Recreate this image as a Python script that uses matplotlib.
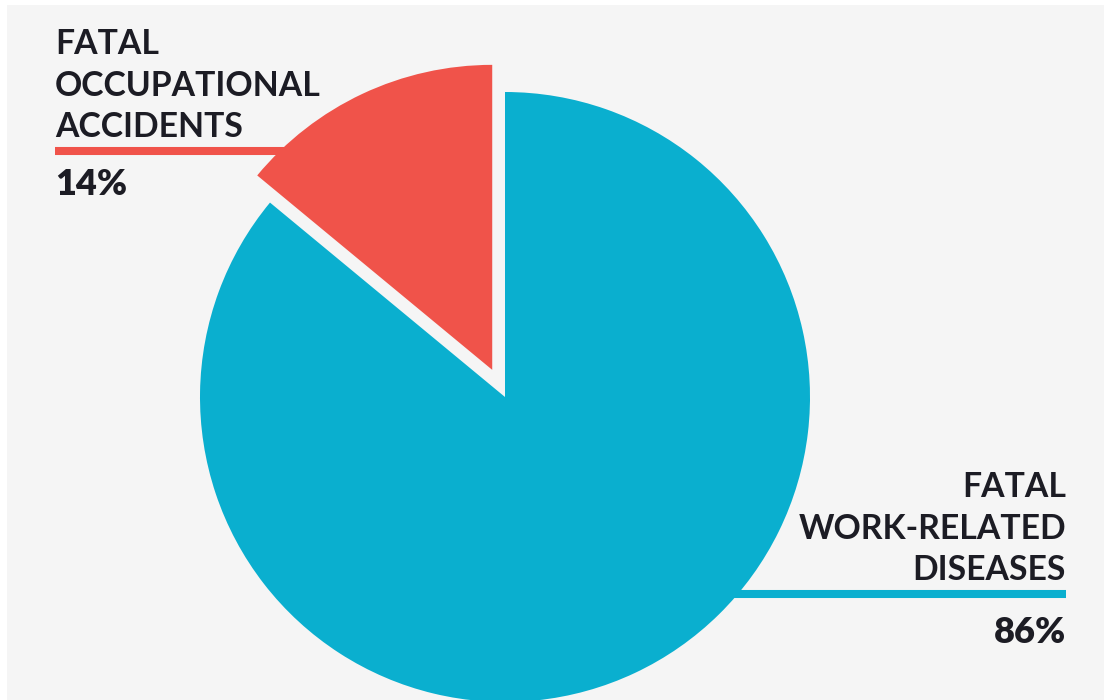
import matplotlib
matplotlib.use("Agg")
import matplotlib.pyplot as plt
from matplotlib.patches import Rectangle

# Data
labels = ["FATAL\nOCCUPATIONAL\nACCIDENTS", "FATAL\nWORK-RELATED\nDISEASES"]
values = [14, 86]
pct_labels = ["14%", "86%"]
colors = ["#f0534a", "#0aafcf"]

W, H = 1104, 700
fig = plt.figure(figsize=(W / 100, H / 100), dpi=100)
fig.patch.set_facecolor("white")
ax = fig.add_axes([0, 0, 1, 1])
ax.set_facecolor("white")

# light grey panel
ax.add_patch(Rectangle((7, 0), W - 7, H - 5, facecolor="#f5f5f5", edgecolor="none", zorder=0))

# pie (data coords = pixels, y up)
cx, cy, r = 505, H - 397, 305
explode = [30, 0]
wedges, _ = ax.pie(values, colors=colors, startangle=90, counterclock=True,
                   explode=explode, center=(cx, cy), radius=r,
                   wedgeprops=dict(linewidth=0, zorder=3), frame=True)

# leader lines
ax.plot([55, 300], [H - 151, H - 151], color=colors[0], lw=5.8, solid_capstyle="butt", zorder=2)
ax.plot([700, 1066], [H - 594, H - 594], color=colors[1], lw=5.8, solid_capstyle="butt", zorder=2)

txt = "#1c1c24"
font = "Lato"
ax.text(55, H - 137, labels[0], ha="left", va="baseline", fontsize=24.3, fontweight="bold",
        color=txt, family=font, linespacing=1.36, zorder=5)
ax.text(55, H - 195, pct_labels[0], ha="left", va="baseline", fontsize=26, fontweight="heavy",
        color=txt, family=font, zorder=5)
ax.text(1066, H - 580, labels[1], ha="right", va="baseline", fontsize=24.3, fontweight="bold",
        color=txt, family=font, linespacing=1.36, multialignment="right", zorder=5)
ax.text(1066, H - 643, pct_labels[1], ha="right", va="baseline", fontsize=26, fontweight="heavy",
        color=txt, family=font, zorder=5)

ax.set_xlim(0, W)
ax.set_ylim(0, H)
ax.set_aspect("auto")
ax.axis("off")

fig.savefig("out.png", dpi=100, facecolor="white")
